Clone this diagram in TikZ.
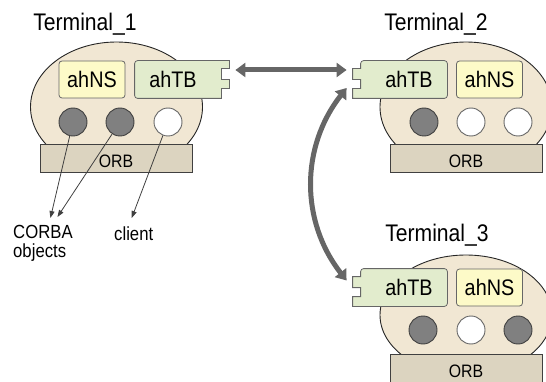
\documentclass[tikz,border=0pt]{standalone}
\usepackage{fontspec}
\setmainfont{Liberation Sans}[FakeStretch=0.88]
\usetikzlibrary{arrows.meta,positioning,calc}

\tikzset{
  blob/.style={draw=black!85, fill=blobfill, line width=0.9pt},
  orbbox/.style={draw=black!75, fill=orbfill, line width=1pt, minimum width=152pt, minimum height=28pt,
    inner sep=0pt, text height=18pt, text depth=0pt, font=\fontsize{18}{18}\selectfont},
  nsbox/.style={draw=black!60, fill=nsfill, rounded corners=3pt, line width=0.8pt, minimum width=66pt,
    minimum height=37pt, inner sep=0pt, font=\fontsize{22.5}{22.5}\selectfont},
  tbbox/.style={minimum width=86pt, minimum height=37pt, inner sep=0pt, font=\fontsize{22.5}{22.5}\selectfont},
  tbline/.style={draw=black!60, fill=tbfill, line width=0.8pt},
  objdark/.style={circle, draw=black!75, fill=darkobj, minimum size=28pt, inner sep=0pt, line width=0.9pt},
  objlight/.style={circle, draw=black!60, fill=white, minimum size=28pt, inner sep=0pt, line width=0.9pt},
  termlabel/.style={font=\fontsize{24}{24}\selectfont, inner sep=0pt, anchor=base},
  note/.style={font=\fontsize{19}{19.5}\selectfont, inner sep=0pt, align=left, anchor=north west},
  pointer/.style={draw=black!75, line width=0.8pt, -{Triangle[length=7pt,width=5pt]}},
  link/.style={draw=linkgray, line width=5pt, {Triangle[length=10pt,width=14pt]}-{Triangle[length=10pt,width=14pt]}}
}

\begin{document}
\begin{tikzpicture}[x=1pt,y=-1pt]
    % Define colors
    \definecolor{blobfill}{RGB}{241,231,211}
    \definecolor{orbfill}{RGB}{220,212,192}
    \definecolor{nsfill}{RGB}{253,250,200}
    \definecolor{tbfill}{RGB}{226,236,205}
    \definecolor{darkobj}{RGB}{128,128,128}
    \definecolor{linkgray}{RGB}{102,102,102}

    \useasboundingbox (0,0) rectangle (546,382);
    \clip (0,0) rectangle (546,382);

    % Terminal_1
    \node[termlabel] (term1) at (85,31) {Terminal\_1};
    \draw[blob] (116.5,107) ellipse [x radius=86pt, y radius=65pt];
    \node[orbbox] (orb1) at (116,159) {ORB};
    \node[nsbox] (ns1) at (92,79.5) {ahNS};
    \draw[tbline] (178,79.5) node[tbbox] (tb1) {ahTB\kern10pt}
        (tb1.south east) [rounded corners=3pt] -- (tb1.south west) -- (tb1.north west) -- (tb1.north east)
        [sharp corners] -- ++(8,0) -- ++(0,8) -- ++(-8,0) -- ++(0,11) -- ++(8,0) -- ++(0,9) -- ++(-8,0) -- cycle;
    \node[objdark] (o11) at (73,122) {};
    \node[objdark] (o12) at (120,122) {};
    \node[objlight] (o13) at (168,122) {};

    % Terminal_2
    \node[termlabel] (term2) at (436,31) {Terminal\_2};
    \draw[blob] (466,107) ellipse [x radius=86pt, y radius=65pt];
    \node[orbbox] (orb2) at (466,159) {ORB};
    \node[nsbox] (ns2) at (489.5,79.5) {ahNS};
    \draw[tbline] (404,79.5) node[tbbox] (tb2) {\kern10pt ahTB}
        ([xshift=-8pt]tb2.south west) [rounded corners=3pt] -- (tb2.south east) -- (tb2.north east) -- (tb2.north west)
        [sharp corners] -- ++(0,8) -- ++(-8,0) -- ++(0,11) -- ++(8,0) -- ++(0,9) -- ++(-8,0) -- cycle;
    \node[objdark] (o21) at (424,122) {};
    \node[objlight] (o22) at (471,122) {};
    \node[objlight] (o23) at (518,122) {};

    % Terminal_3
    \node[termlabel] (term3) at (437,241) {Terminal\_3};
    \draw[blob] (466,315) ellipse [x radius=86pt, y radius=60pt];
    \node[orbbox] (orb3) at (466,368) {ORB};
    \node[nsbox] (ns3) at (489.5,287.5) {ahNS};
    \draw[tbline] (404,287.5) node[tbbox] (tb3) {\kern10pt ahTB}
        ([xshift=-8pt]tb3.south west) [rounded corners=3pt] -- (tb3.south east) -- (tb3.north east) -- (tb3.north west)
        [sharp corners] -- ++(0,8) -- ++(-8,0) -- ++(0,11) -- ++(8,0) -- ++(0,9) -- ++(-8,0) -- cycle;
    \node[objdark] (o31) at (423,330) {};
    \node[objlight] (o32) at (471,330) {};
    \node[objdark] (o33) at (518,330) {};

    % Labels and pointers
    \node[note] (corba) at (13,225) {CORBA\\objects};
    \node[note] (client) at (114,227) {client};
    \draw[pointer] (o11) -- ([xshift=7.5pt,yshift=7pt]corba.north);
    \draw[pointer] (o12) -- ([xshift=14.5pt,yshift=8pt]corba.north);
    \draw[pointer] (o13) -- ([xshift=-2pt,yshift=9pt]client.north);

    % Links between the ahTB boxes
    \coordinate (l1) at ([shift={(14pt,9.5pt)}]tb1.east);
    \coordinate (l2) at ([shift={(-14pt,9.5pt)}]tb2.west);
    \coordinate (l3) at ([shift={(-14pt,-8.5pt)}]tb2.west);
    \coordinate (l4) at ([shift={(-14pt,7pt)}]tb3.west);
    \draw[link] (l1) -- (l2);
    \draw[link] (l3) to[bend right=38] (l4);
\end{tikzpicture}
\end{document}
